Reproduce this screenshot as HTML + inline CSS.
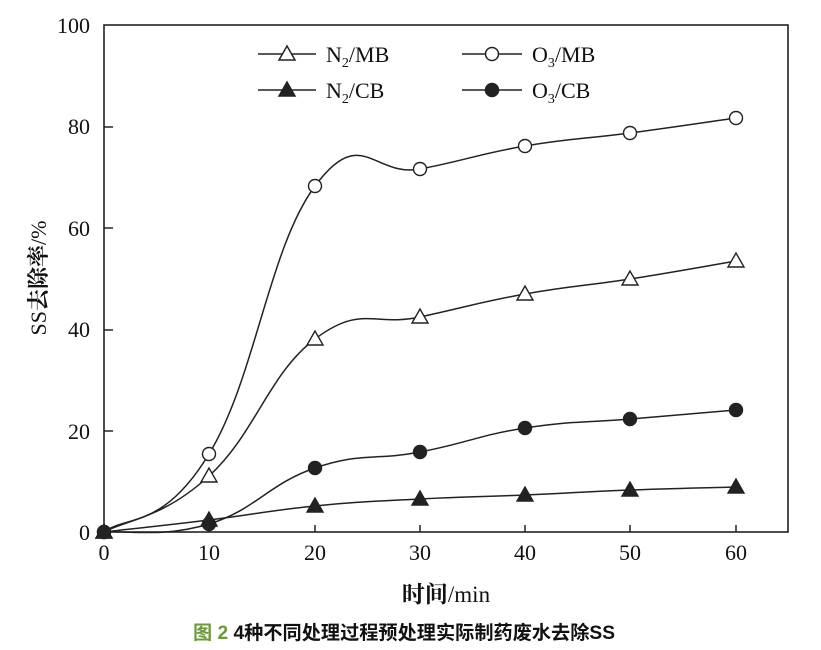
<!DOCTYPE html>
<html><head><meta charset="utf-8"><style>
body{margin:0;background:#fff;}
svg{display:block;font-family:"Liberation Serif","Noto Serif CJK SC",serif;}
</style></head><body>
<svg id="s" width="821" height="650" viewBox="0 0 821 650">
<rect x="104" y="25" width="684" height="507" fill="none" stroke="#222" stroke-width="1.6"/>
<g stroke="#222" stroke-width="1.5">
<line x1="209" y1="532" x2="209" y2="525"/><line x1="315" y1="532" x2="315" y2="525"/><line x1="420" y1="532" x2="420" y2="525"/><line x1="525" y1="532" x2="525" y2="525"/><line x1="630" y1="532" x2="630" y2="525"/><line x1="736" y1="532" x2="736" y2="525"/>
<line x1="104" y1="127" x2="113" y2="127"/><line x1="104" y1="228" x2="113" y2="228"/><line x1="104" y1="330" x2="113" y2="330"/><line x1="104" y1="431" x2="113" y2="431"/>
</g>
<g font-size="22" fill="#111" text-anchor="end">
<text x="90" y="33">100</text><text x="90" y="134">80</text><text x="90" y="236">60</text><text x="90" y="337">40</text><text x="90" y="439">20</text><text x="90" y="540">0</text>
</g>
<g font-size="22" fill="#111" text-anchor="middle">
<text x="104" y="560">0</text><text x="209" y="560">10</text><text x="315" y="560">20</text><text x="420" y="560">30</text><text x="525" y="560">40</text><text x="630" y="560">50</text><text x="736" y="560">60</text>
<text x="446" y="602" font-size="23"><tspan font-weight="bold">时间</tspan>/min</text>
</g>
<text transform="translate(46,278) rotate(-90)" font-size="22" text-anchor="middle" fill="#111">SS<tspan font-weight="bold">去除率</tspan>/%</text>
<g id="curves" fill="none" stroke="#222" stroke-width="1.5"></g>
<g id="marks" stroke="#222" stroke-width="1.4"></g>
<g stroke="#222" stroke-width="1.5" fill="none">
<line x1="258" y1="54" x2="316" y2="54"/><polygon points="287,46 279,60 295,60" fill="#fff"/>
<line x1="462" y1="54" x2="522" y2="54"/><circle cx="492" cy="54" r="6.5" fill="#fff"/>
<line x1="258" y1="90" x2="316" y2="90"/><polygon points="287,82 279,96 295,96" fill="#222"/>
<line x1="462" y1="90" x2="522" y2="90"/><circle cx="492" cy="90" r="6.5" fill="#222"/>
</g>
<g font-size="22" fill="#111">
<text x="326" y="62">N<tspan font-size="14" dy="5">2</tspan><tspan dy="-5">/MB</tspan></text>
<text x="532" y="62">O<tspan font-size="14" dy="5">3</tspan><tspan dy="-5">/MB</tspan></text>
<text x="326" y="98">N<tspan font-size="14" dy="5">2</tspan><tspan dy="-5">/CB</tspan></text>
<text x="532" y="98">O<tspan font-size="14" dy="5">3</tspan><tspan dy="-5">/CB</tspan></text>
</g>
<text x="193" y="639" font-size="19" font-family="Liberation Sans,Noto Sans CJK SC,sans-serif" font-weight="bold" fill="#111" textLength="422" lengthAdjust="spacingAndGlyphs"><tspan fill="#6a9a3a">图 2</tspan> 4种不同处理过程预处理实际制药废水去除SS</text>
</svg>
<script>
var S={
o3mb:{p:[[104,532],[209,454],[315,186],[420,169],[525,146],[630,133],[736,118]],m:'oc'},
n2mb:{p:[[104,532],[209,476],[315,339],[420,317],[525,294],[630,279],[736,261]],m:'ot'},
o3cb:{p:[[104,532],[209,524],[315,468],[420,452],[525,428],[630,419],[736,410]],m:'fc'},
n2cb:{p:[[104,532],[209,520],[315,506],[420,499],[525,495],[630,490],[736,487]],m:'ft'}};
var ns='http://www.w3.org/2000/svg',cg=document.getElementById('curves'),mg=document.getElementById('marks');
for(var k in S){var p=S[k].p,d='M'+p[0];
for(var i=0;i<p.length-1;i++){var a=p[i-1]||p[i],b=p[i],c=p[i+1],e=p[i+2]||c;
var t=0.22;d+=' C'+(b[0]+(c[0]-a[0])*t)+','+(b[1]+(c[1]-a[1])*t)+' '+(c[0]-(e[0]-b[0])*t)+','+(c[1]-(e[1]-b[1])*t)+' '+c[0]+','+c[1];}
var path=document.createElementNS(ns,'path');path.setAttribute('d',d);cg.appendChild(path);
for(var i=0;i<p.length;i++){var x=p[i][0],y=p[i][1],m=S[k].m,el;
if(m[1]=='c'){el=document.createElementNS(ns,'circle');el.setAttribute('cx',x);el.setAttribute('cy',y);el.setAttribute('r',6.5);}
else{el=document.createElementNS(ns,'polygon');el.setAttribute('points',x+','+(y-8)+' '+(x-8)+','+(y+6)+' '+(x+8)+','+(y+6));}
el.setAttribute('fill',m[0]=='o'?'#fff':'#222');mg.appendChild(el);}}
</script>
</body></html>
